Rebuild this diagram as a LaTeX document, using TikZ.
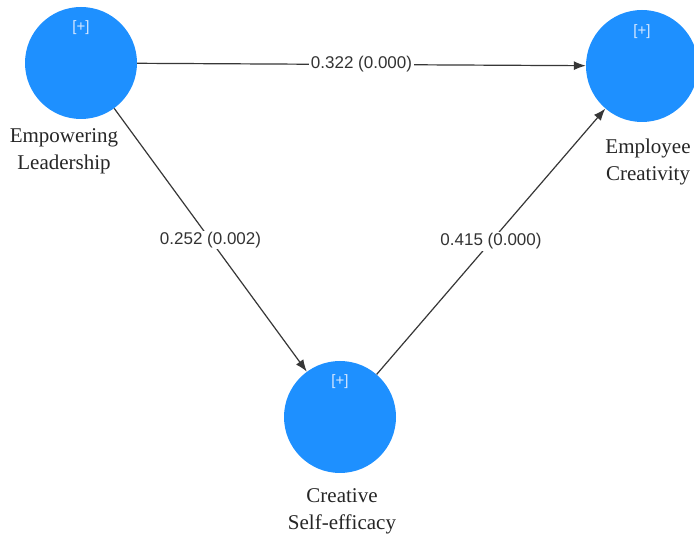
\documentclass[tikz,border=0pt]{standalone}
\usepackage{fontspec}
\setmainfont{Liberation Serif}
\newfontfamily\coeffont{Liberation Sans}
\usepackage{tikz}
\usetikzlibrary{shapes,arrows.meta}
\definecolor{lvblue}{RGB}{30,144,255}
\definecolor{plustext}{RGB}{215,232,255}
\definecolor{edgegray}{RGB}{55,55,55}
\tikzstyle{construct} = [circle, fill=lvblue, minimum size=112pt, inner sep=0pt]
\tikzstyle{plus} = [text=plustext, font=\coeffont\fontsize{15}{15}\selectfont, inner sep=0pt]
\tikzstyle{varname} = [align=center, text=black!85, font=\fontsize{21}{27}\selectfont, inner sep=0pt]
\tikzstyle{coef} = [fill=white, text=black!80, font=\coeffont\fontsize{17}{18}\selectfont, inner sep=1.5pt]
\tikzstyle{line} = [draw=edgegray, line width=1.2pt, -{Latex[length=12pt,width=9pt]}]
\begin{document}
\begin{tikzpicture}[x=1pt, y=-1pt]
        \fill[white] (0,0) rectangle (694,534);
        \useasboundingbox (0,0) rectangle (694,534);
        % Place nodes
        \node (lead) [construct] at (81,63) {};
        \path (lead.center)+(0,-35) node (leadplus) [plus] {[+]};
        \path (lead.south)+(-17,32) node (leadname) [varname] {Empowering\\Leadership};

        \node (creat) [construct] at (642,66) {};
        \path (creat.center)+(0,-34) node (creatplus) [plus] {[+]};
        \path (creat.south)+(6,40) node (creatname) [varname] {Employee\\Creativity};

        \node (selfeff) [construct] at (340,417) {};
        \path (selfeff.center)+(0,-35) node (selfeffplus) [plus] {[+]};
        \path (selfeff.south)+(2,38) node (selfeffname) [varname] {Creative\\Self-efficacy};

        %Paths
        \path [line] (lead) -- node (c1) [coef] {0.322 (0.000)} (creat);
        \path [line] (lead) -- node (c2) [coef] {0.252 (0.002)} (selfeff);
        \path [line] (selfeff) -- node (c3) [coef] {0.415 (0.000)} (creat);
    \end{tikzpicture}
\end{document}
